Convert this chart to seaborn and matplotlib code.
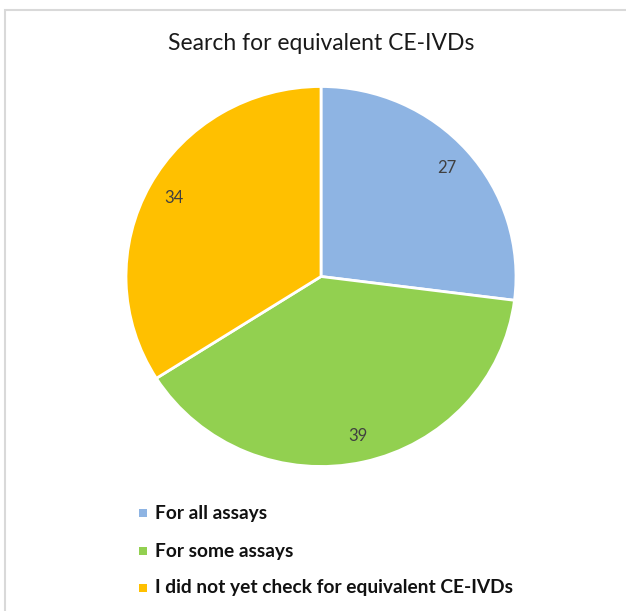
import matplotlib
matplotlib.use("Agg")
import matplotlib.pyplot as plt
from matplotlib.patches import Rectangle
import seaborn as sns

# Survey responses
categories = ["For all assays", "For some assays", "I did not yet check for equivalent CE-IVDs"]
counts = [27, 39, 34]
colors = ["#8EB4E3", "#92D050", "#FFC000"]
title = "Search for equivalent CE-IVDs"

sns.set_theme(style="white")
plt.rcParams["font.family"] = ["Lato", "DejaVu Sans"]

W, H = 626, 611
fig = plt.figure(figsize=(W / 100, H / 100), dpi=100)
fig.patch.set_facecolor("white")

# outer chart frame
fig.add_artist(Rectangle((5 / W, -0.05), 1.0, 1 - 9.5 / H + 0.05,
                         transform=fig.transFigure, fill=False,
                         edgecolor="#d9d9d9", lw=1.5))

# pie area (slightly wider than tall)
cx, cy, rx, ry = 321, 276.5, 195, 190
ax = fig.add_axes([(cx - rx) / W, (H - cy - ry) / H, 2 * rx / W, 2 * ry / H])
palette = sns.color_palette(colors)
wedges, texts = ax.pie(counts, colors=palette, startangle=90, counterclock=False,
                       labels=[str(c) for c in counts], labeldistance=0.86,
                       wedgeprops=dict(edgecolor="white", linewidth=2),
                       textprops=dict(color="#404040", fontsize=12))
for t in texts:
    t.set_ha("center")
    t.set_va("center")
ax.set_aspect("auto")
ax.set_xlim(-1, 1)
ax.set_ylim(-1, 1)
ax.set_axis_off()

fig.text(321 / W, 1 - 44 / H, title, ha="center", va="center",
         fontsize=16.5, color="#1a1a1a")

# legend entries below the pie
row_y = [513, 551, 588]
for label, color, y in zip(categories, palette, row_y):
    fig.add_artist(Rectangle(((143 - 4) / W, 1 - (y + 4) / H), 8 / W, 8 / H,
                             transform=fig.transFigure, facecolor=color,
                             edgecolor="none"))
    fig.text(155 / W, 1 - y / H, label, ha="left", va="center",
             fontsize=13.8, fontweight="bold", color="#111111")

fig.savefig("out.png", dpi=100, facecolor="white")
